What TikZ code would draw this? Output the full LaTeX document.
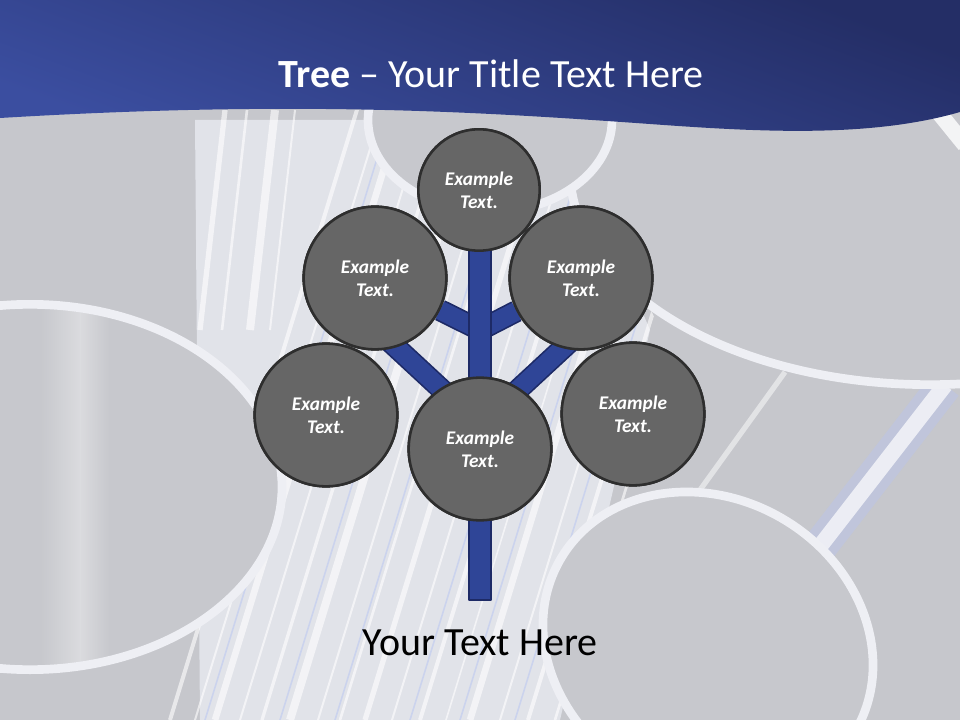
\documentclass[tikz,border=0pt]{standalone}
\usepackage{fontspec}
\setmainfont{Carlito}
\begin{document}
\begin{tikzpicture}[x=0.75pt,y=-0.75pt,line join=round]
\definecolor{bggray}{HTML}{C6C7CC}
\definecolor{bandc}{HTML}{E6E8EF}
\definecolor{rimc}{HTML}{EEEFF4}
\definecolor{pipec}{HTML}{C7C8CD}
\definecolor{streakblue}{HTML}{B7C4F2}
\definecolor{bantop}{HTML}{242E66}
\definecolor{banbot}{HTML}{3B4EA0}
\definecolor{cgray}{HTML}{666666}
\definecolor{cborder}{HTML}{2E2E2E}
\definecolor{treeblue}{HTML}{2F4597}
\definecolor{treeedge}{HTML}{1D2A66}
\tikzset{
  pipe/.style={fill=pipec,draw=rimc,line width=6.5pt},
  streak/.style={white,opacity=0.6},
  bstreak/.style={streakblue,opacity=0.5},
  circ/.style={circle,fill=cgray,draw=cborder,line width=1.9pt,inner sep=0pt,
    text=white,align=center,font=\bfseries\itshape\fontsize{14.5}{17.5}\selectfont},
  bigc/.style={circ,minimum size=107pt},
  smallc/.style={circ,minimum size=91pt},
  branchedge/.style={treeedge,line width=16.5pt,line cap=butt},
  branchfill/.style={treeblue,line width=14pt,line cap=butt},
  trunk/.style={fill=treeblue,draw=treeedge,line width=1.3pt}
}
\useasboundingbox (0,0) rectangle (960,720);
% background
\fill[bggray] (0,0) rectangle (960,720);
\fill[bandc,opacity=0.85] (200,720) -- (560,720) -- (650,330) -- (560,120) -- (195,120) -- cycle;
\begin{scope}
  \clip (150,720) -- (580,720) -- (660,330) -- (560,110) -- (150,110) -- cycle;
  \foreach \a/\w in {170/3,195/1.5,215/5,240/1.5,262/2.5,290/6,318/1.5,340/2,365/4,392/1.5,420/3,446/1.2,470/5,500/1.5,528/3,555/2}
    \draw[streak,line width=\w pt] (\a,720) -- (\a+190,100);
  \foreach \a in {205,280,335,410,460,515}
    \draw[bstreak,line width=1.2pt] (\a,720) -- (\a+190,100);
  \foreach \a/\w in {200/4,222/2,250/6,270/1.5}
    \draw[streak,line width=\w pt] (\a,330) -- (\a+25,110);
\end{scope}
% right bright strip
\draw[streakblue,opacity=0.4,line width=26pt] (790,585) -- (945,385);
\draw[white,opacity=0.7,line width=12pt] (790,585) -- (945,385);
\draw[white,opacity=0.5,line width=4pt] (700,490) -- (785,372);
% pipes
\draw[pipe] (930,170) ellipse [x radius=270pt,y radius=161pt];
\draw[pipe] (490,120) ellipse [x radius=91.5pt,y radius=69pt];
\begin{scope}
  \clip (30,487) ellipse [x radius=186pt,y radius=134pt];
  \fill[pipec] (0,280) rectangle (300,700);
  \shade[left color=pipec,right color=white,opacity=0.35] (40,300) rectangle (80,680);
  \shade[left color=white,right color=pipec,opacity=0.35] (80,300) rectangle (110,680);
\end{scope}
\draw[rimc,line width=6.5pt] (30,487) ellipse [x radius=189pt,y radius=137pt];
\draw[pipe,rotate around={-30:(708,645)}] (708,645) ellipse [x radius=128pt,y radius=110pt];
\draw[white,opacity=0.8,line width=12pt] (935,108) -- (965,145);
% banner
\shade[top color=bantop,bottom color=banbot,shading angle=-20]
  (0,0) -- (960,0) -- (960,112) .. controls (870,138) and (760,132) .. (650,124)
  .. controls (480,112) and (300,100) .. (0,118) -- cycle;
\node[anchor=base,text=white,font=\fontsize{30}{36}\selectfont] (title) at (491,88)
  {\textbf{Tree} -- Your Title Text Here};
% tree coordinates
\coordinate (j1) at (480,330);
\coordinate (j2) at (480,425);
\coordinate (bl) at (345,300);
\coordinate (br) at (615,300);
% circles (positioned first so branches can refer to them)
\path
  node[smallc] (T)  at (479,190) {}
  node[bigc]   (UL) at (375,278) {}
  node[bigc]   (UR) at (581,278) {}
  node[bigc]   (L)  at (326,415) {}
  node[bigc]   (R)  at (633,414) {}
  node[bigc]   (C)  at (480,449) {};
% branches
\foreach \s/\e in {j1/UL,j1/UR,j2/bl,j2/br}{
  \draw[branchedge] (\s) -- (\e);
  \draw[branchfill] (\s) -- (\e);
}
\draw[trunk] (469,240) rectangle (491,600);
% circles drawn over tree
\node[smallc] at (T) {Example\\Text.};
\node[bigc] at (UL) {Example\\Text.};
\node[bigc] at (UR) {Example\\Text.};
\node[bigc] at (L) {Example\\Text.};
\node[bigc] at (R) {Example\\Text.};
\node[bigc] at (C) {Example\\Text.};
\node[anchor=base,font=\fontsize{30}{36}\selectfont] (caption) at (480,655) {Your Text Here};
\end{tikzpicture}
\end{document}
